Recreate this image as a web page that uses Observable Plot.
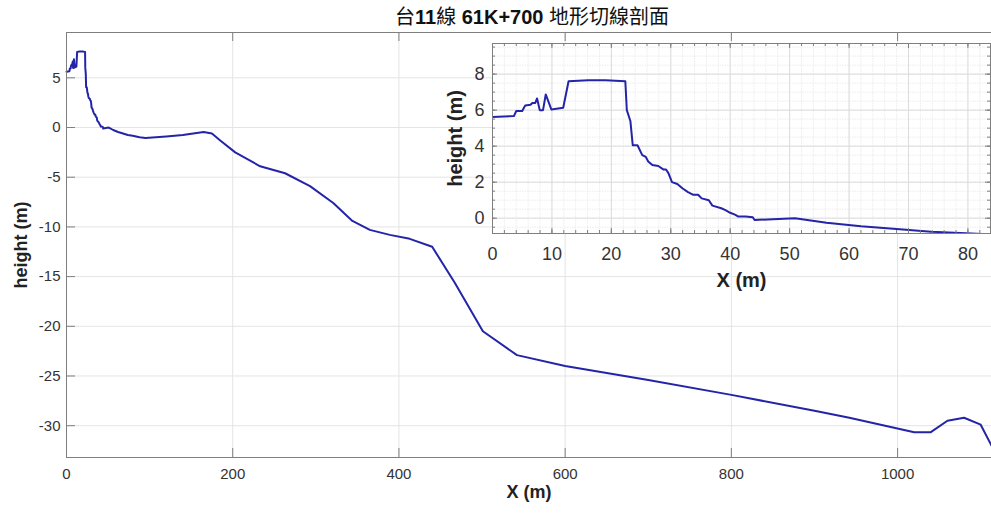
<!DOCTYPE html>
<html><head><meta charset="utf-8">
<script src="https://cdn.jsdelivr.net/npm/d3@7"></script>
<script src="https://cdn.jsdelivr.net/npm/@observablehq/plot@0.6"></script>
<style>
body{margin:0;background:#fff;}
#wrap{position:relative;width:991px;height:515px;overflow:hidden;font-family:"Liberation Sans",Arial,sans-serif;}
#wrap svg{position:absolute;left:0;top:0;}
#title{position:absolute;left:0;top:5px;width:1064px;text-align:center;line-height:22px;color:#111;white-space:nowrap;z-index:5;}
#title .lat{font-family:"Liberation Sans",Arial,sans-serif;font-weight:bold;font-size:20px;}
#title .cjk{font-family:"Noto Sans CJK TC","Noto Sans CJK SC",sans-serif;font-weight:normal;font-size:20px;}
</style>
</head><body>
<div id="wrap"><div id="title"><span class="cjk">台</span><span class="lat">11</span><span class="cjk">線</span><span class="lat"> 61K+700 </span><span class="cjk">地形切線剖面</span></div></div>
<script>
// near-shore detail (also shown in the inset)
const detailX = [0, 3.6, 4.0, 5.0, 5.5, 6.4, 6.7, 7.2, 7.5, 7.95, 8.5, 8.96, 9.9, 11.9, 12.8, 16.1, 19.0, 22.35, 22.6, 23.2, 23.6, 24.4, 25.2, 25.8, 26.2, 26.9, 27.9, 28.8, 29.2, 29.6, 30.2, 31.1, 32.0, 32.9, 33.8, 34.6, 35.2, 36.4, 37.0, 38.5, 39.2, 40.0, 40.8, 41.3, 42.6, 43.8, 44.1, 50.9, 56.2, 62.0, 68.0, 73.8, 79.7, 83.7];
const detailY = [5.62, 5.67, 5.95, 5.95, 6.26, 6.3, 6.4, 6.4, 6.65, 6.0, 6.0, 6.87, 6.04, 6.13, 7.6, 7.66, 7.66, 7.6, 6.0, 5.4, 4.05, 4.05, 3.5, 3.4, 3.15, 2.95, 2.9, 2.7, 2.7, 2.5, 2.0, 1.9, 1.65, 1.45, 1.3, 1.3, 1.1, 1.0, 0.7, 0.55, 0.45, 0.3, 0.2, 0.1, 0.1, 0.05, -0.1, 0.0, -0.25, -0.45, -0.6, -0.75, -0.83, -0.9];
// offshore profile
const farX = [88, 95, 120, 140, 165, 175, 185, 203, 233, 263, 293, 321, 344, 365, 389, 413, 440, 467, 501, 542, 600, 700, 800, 900, 942, 1020, 1040, 1060, 1080, 1100, 1113];
const farY = [-0.98, -1.05, -0.9, -0.75, -0.45, -0.6, -1.3, -2.5, -3.9, -4.6, -5.9, -7.6, -9.4, -10.3, -10.8, -11.2, -12.0, -15.6, -20.5, -22.9, -24.0, -25.4, -26.9, -28.5, -29.2, -30.65, -30.65, -29.5, -29.2, -29.9, -32.0];

const mainXTicks = [0, 200, 400, 600, 800, 1000];
const mainYTicks = [5, 0, -5, -10, -15, -20, -25, -30];
const insetXTicks = [0, 10, 20, 30, 40, 50, 60, 70, 80];
const insetYTicks = [0, 2, 4, 6, 8];
const insetXMinor = d3.range(0, 84, 2);
const insetYMinor = d3.range(-0.5, 9.75, 0.5);

const detail = detailX.map((x, i) => ({x, y: detailY[i]}));
const profile = detail.concat(farX.map((x, i) => ({x, y: farY[i]})));

const W = 991, H = 515;
const lineColor = "#2424a8";
const axisColor = "#7f7f7f";
const fmt = d => String(d);

const mM = {l: 66, t: 32, r: 0, b: 58};
const mIW = W - mM.l - mM.r, mIH = H - mM.t - mM.b;
const main = Plot.plot({
  width: W, height: H,
  marginLeft: mM.l, marginTop: mM.t, marginRight: mM.r, marginBottom: mM.b,
  style: {background: "transparent", fontFamily: "Liberation Sans, Arial, sans-serif", color: "#333"},
  x: {domain: [0, 1113]},
  y: {domain: [-33.2, 9.56]},
  marks: [
    Plot.ruleX(mainXTicks, {stroke: "#e4e4e4"}),
    Plot.ruleY(mainYTicks, {stroke: "#e4e4e4"}),
    Plot.line(profile, {x: "x", y: "y", stroke: lineColor, strokeWidth: 2}),
    Plot.frame({stroke: axisColor}),
    Plot.tickX(mainXTicks, {x: d => d, stroke: axisColor, insetTop: mIH - 9}),
    Plot.tickX(mainXTicks, {x: d => d, stroke: axisColor, insetBottom: mIH - 9}),
    Plot.tickY(mainYTicks, {y: d => d, stroke: axisColor, insetRight: mIW - 9}),
    Plot.axisX(mainXTicks, {tickSize: 0, tickPadding: 11, fontSize: 15, label: null, tickFormat: fmt}),
    Plot.axisY(mainYTicks, {tickSize: 0, tickPadding: 6, fontSize: 15, label: null, tickFormat: fmt}),
    Plot.text(["X (m)"], {frameAnchor: "bottom", textAnchor: "middle", dy: 40, fontSize: 18, fontWeight: "bold", fill: "#222"}),
    Plot.text(["height (m)"], {frameAnchor: "left", textAnchor: "middle", rotate: -90, dx: -45, fontSize: 18, fontWeight: "bold", fill: "#222"})
  ]
});

const iM = {l: 492, t: 43, r: 1, b: 282};
const iIW = W - iM.l - iM.r, iIH = H - iM.t - iM.b;
const inset = Plot.plot({
  width: W, height: H,
  marginLeft: iM.l, marginTop: iM.t, marginRight: iM.r, marginBottom: iM.b,
  style: {background: "transparent", fontFamily: "Liberation Sans, Arial, sans-serif", color: "#333"},
  x: {domain: [0, 83.8]},
  y: {domain: [-0.85, 9.7]},
  marks: [
    Plot.frame({fill: "white", stroke: null}),
    Plot.ruleX(insetXMinor, {stroke: "#ececec", strokeDasharray: "1.5,1"}),
    Plot.ruleY(insetYMinor, {stroke: "#ececec", strokeDasharray: "1.5,1"}),
    Plot.ruleX(insetXTicks, {stroke: "#dcdcdc"}),
    Plot.ruleY(insetYTicks, {stroke: "#dcdcdc"}),
    Plot.line(profile, {x: "x", y: "y", stroke: lineColor, strokeWidth: 2, clip: true}),
    Plot.frame({stroke: axisColor}),
    Plot.tickX(insetXMinor, {x: d => d, stroke: axisColor, insetTop: iIH - 3}),
    Plot.tickX(insetXMinor, {x: d => d, stroke: axisColor, insetBottom: iIH - 3}),
    Plot.tickY(insetYMinor, {y: d => d, stroke: axisColor, insetRight: iIW - 3}),
    Plot.tickY(insetYMinor, {y: d => d, stroke: axisColor, insetLeft: iIW - 3}),
    Plot.tickX(insetXTicks, {x: d => d, stroke: axisColor, insetTop: iIH - 5}),
    Plot.tickX(insetXTicks, {x: d => d, stroke: axisColor, insetBottom: iIH - 5}),
    Plot.tickY(insetYTicks, {y: d => d, stroke: axisColor, insetRight: iIW - 5}),
    Plot.tickY(insetYTicks, {y: d => d, stroke: axisColor, insetLeft: iIW - 5}),
    Plot.axisX(insetXTicks, {tickSize: 0, tickPadding: 14, fontSize: 18, label: null, tickFormat: fmt}),
    Plot.axisY(insetYTicks, {tickSize: 0, tickPadding: 8, fontSize: 18, label: null, tickFormat: fmt}),
    Plot.text(["X (m)"], {frameAnchor: "bottom", textAnchor: "middle", dy: 53, fontSize: 20, fontWeight: "bold", fill: "#222"}),
    Plot.text(["height (m)"], {frameAnchor: "left", textAnchor: "middle", rotate: -90, dx: -37, fontSize: 20, fontWeight: "bold", fill: "#222"})
  ]
});

const wrap = document.getElementById("wrap");
wrap.appendChild(main);
wrap.appendChild(inset);
</script>
</body></html>
